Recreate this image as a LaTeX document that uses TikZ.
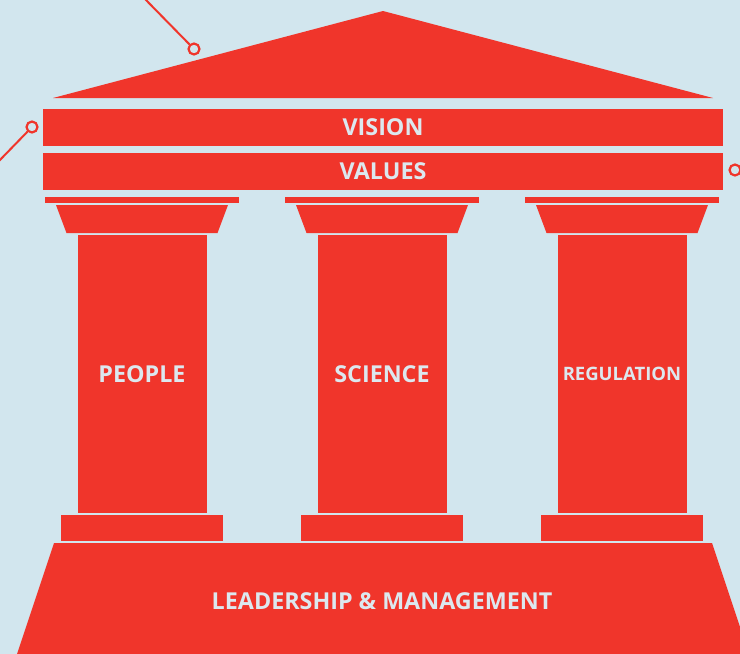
\documentclass[tikz,border=0pt]{standalone}
\usepackage{fontspec}
\setmainfont{Open Sans}
\definecolor{sky}{HTML}{D2E6EE}
\definecolor{brick}{HTML}{F0352B}
\definecolor{pale}{HTML}{DCE8EF}
\tikzset{
  bar/.style={fill=brick, text=pale, inner sep=0pt, font=\bfseries\fontsize{23.3}{23.3}\selectfont},
  dot/.style={circle, draw=brick, fill=sky, line width=2.2pt, minimum size=11pt, inner sep=0pt},
  link/.style={draw=brick, line width=2pt}
}
\begin{document}
\begin{tikzpicture}[x=1pt,y=-1pt]
    \fill[sky] (0,0) rectangle (740,654);
    \useasboundingbox (0,0) rectangle (740,654);
    % pointers
    \coordinate (roofend) at (144,-2);
    \coordinate (leftend) at (-2,162);
    \node[dot] (roofdot) at (194,49) {};
    \node[dot] (leftdot) at (32,127) {};
    \node[dot] (rightdot) at (735,170) {};
    \draw[link] (roofend) -- (roofdot);
    \draw[link] (leftend) -- (leftdot);
    % roof and beams
    \fill[brick] (383,11) -- (713,98) -- (53,98) -- cycle;
    \node[bar, minimum width=680pt, minimum height=37pt] (vision) at (383,127) {VISION};
    \node[bar, minimum width=680pt, minimum height=37pt] (values) at (383,171) {VALUES};
    % columns
    \foreach \c/\name/\lab/\fs in {142/people/PEOPLE/23.3, 382/science/SCIENCE/23.3, 622/regulation/REGULATION/18.5} {
        \fill[brick] (\c-97,197) rectangle (\c+97,203);
        \fill[brick] (\c-86,205) -- (\c+86,205) -- (\c+75.5,233) -- (\c-75.5,233) -- cycle;
        \node[bar, minimum width=129pt, minimum height=278pt, font=\bfseries\fontsize{\fs}{\fs}\selectfont] (\name) at (\c,374) {\lab};
        \fill[brick] (\c-81,515) rectangle (\c+81,541);
    }
    % base
    \fill[brick] (54,543) -- (712,543) -- (749,654) -- (17,654) -- cycle;
    \node[text=pale, font=\bfseries\fontsize{23.3}{23.3}\selectfont] (leadership) at (382,601) {LEADERSHIP \& MANAGEMENT};
\end{tikzpicture}
\end{document}
